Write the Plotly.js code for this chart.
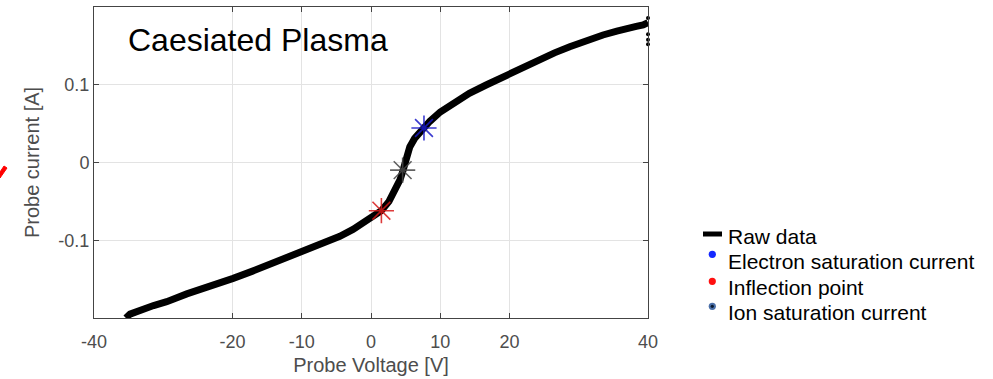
<!DOCTYPE html>
<html>
<head>
<meta charset="utf-8">
<script src="https://cdn.plot.ly/plotly-3.0.1.min.js"></script>
<style>html,body{margin:0;padding:0;background:#fff;}#chart{width:993px;height:379px;}</style>
</head>
<body>
<div id="chart"></div>
<script>
// Raw data (probe voltage [V], probe current [A])
const voltage = [-35.4, -34.8, -31.4, -29.5, -26.6, -22.5, -19.9, -17.2, -14.6, -12.3, -10.0, -8.2, -6.4, -4.5, -2.6, -1.2, 0.3, 1.5, 2.6, 3.5, 4.2, 4.6, 5.1, 5.6, 6.3, 7.0, 7.65, 8.5, 10.0, 11.9, 14.2, 16.7, 19.8, 22.0, 24.4, 26.5, 28.7, 31.0, 33.5, 35.5, 36.9, 38.3, 39.3, 40.0];
const current = [-0.2, -0.195, -0.184, -0.179, -0.169, -0.158, -0.149, -0.140, -0.131, -0.122, -0.114, -0.108, -0.103, -0.095, -0.086, -0.078, -0.069, -0.062, -0.050, -0.036, -0.022, -0.011, 0.004, 0.020, 0.031, 0.039, 0.045, 0.053, 0.065, 0.0765, 0.089, 0.100, 0.113, 0.124, 0.134, 0.141, 0.149, 0.157, 0.164, 0.169, 0.173, 0.175, 0.177, 0.180];
// scattered points at the right end
const endVoltage = [40, 40, 40, 40];
const endCurrent = [0.186, 0.165, 0.158, 0.152];

// marked points
const electronSat = {v: [7.65], i: [0.0444]};
const inflection = {v: [1.5], i: [-0.062]};
const ionSat = {v: [4.57], i: [-0.0098]};

const xTicks = [-40, -20, -10, 0, 10, 20, 40];
const yTicks = [-0.1, 0, 0.1];
const yTickText = ['-0.1', '0', '0.1'];

const legendLabels = ['Raw data', 'Electron saturation current', 'Inflection point', 'Ion saturation current'];
const titleText = 'Caesiated Plasma';
const xTitle = 'Probe Voltage [V]';
const yTitle = 'Probe current [A]';

const W = 993, H = 379, L = 94, R = 648, T = 7, B = 318;
const px = x => (x - L) / (R - L);
const py = y => (B - y) / (B - T);

const star = (c) => ({symbol: 'asterisk-open', size: 21, color: c, line: {color: c, width: 1.6}});
const traces = [
  {x: voltage, y: current, mode: 'lines', line: {color: '#000', width: 7}, showlegend: false, hoverinfo: 'skip'},
  {x: endVoltage, y: endCurrent, mode: 'markers', marker: {color: '#000', size: 4}, showlegend: false, cliponaxis: false},
  {x: inflection.v, y: inflection.i, mode: 'markers', marker: star('rgba(215,25,25,0.85)'), showlegend: false},
  {x: ionSat.v, y: ionSat.i, mode: 'markers', marker: star('rgba(70,70,70,0.85)'), showlegend: false},
  {x: electronSat.v, y: electronSat.i, mode: 'markers', marker: star('rgba(25,25,200,0.85)'), showlegend: false}
];

const legY = [236.5, 261.5, 287, 312.5];
const annotations = [
  {text: titleText, xref: 'paper', yref: 'paper', x: px(126), y: py(40), xanchor: 'left', yanchor: 'middle', showarrow: false, font: {family: 'Liberation Sans, Arial', size: 32, color: '#000'}}
];
legendLabels.forEach((t, k) => {
  annotations.push({text: t, xref: 'paper', yref: 'paper', x: px(726), y: py(legY[k]), xanchor: 'left', yanchor: 'middle', showarrow: false, font: {family: 'Liberation Sans, Arial', size: 21, color: '#000'}});
});

const dot = (cx, cy, r, color) => ({type: 'circle', xref: 'paper', yref: 'paper', x0: px(cx - r), x1: px(cx + r), y0: py(cy + r), y1: py(cy - r), fillcolor: color, line: {width: 0}});
const shapes = [
  {type: 'line', xref: 'paper', yref: 'paper', x0: px(703), x1: px(722), y0: py(234), y1: py(234), line: {color: '#000', width: 5}},
  dot(712.3, 254.3, 3.6, '#1428ff'),
  dot(712.3, 281.3, 3.6, '#ff1010'),
  dot(712.3, 306.3, 3.6, '#4a6fa8'),
  dot(712.3, 306.3, 1.6, '#0a1a30'),
  {type: 'path', xref: 'paper', yref: 'paper', path: `M ${px(0)} ${py(178)} L ${px(7)} ${py(168)} L ${px(4)} ${py(166)} L ${px(0)} ${py(172)} Z`, fillcolor: '#ff0000', line: {color: '#ff0000', width: 1}}
];

const layout = {
  width: W, height: H,
  margin: {l: L, r: W - R, t: T, b: H - B, pad: 0},
  paper_bgcolor: '#fff', plot_bgcolor: '#fff',
  showlegend: false,
  xaxis: {
    range: [-40, 40], tickvals: xTicks, ticktext: xTicks.map(String),
    ticks: 'inside', ticklen: 5, tickcolor: '#444', mirror: 'ticks', showline: true, linecolor: '#444', linewidth: 1,
    showgrid: true, gridcolor: '#e3e3e3', zeroline: false, ticklabelstandoff: 7,
    tickfont: {family: 'Liberation Sans, Arial', size: 18, color: '#4d4d4d'},
    title: {text: xTitle, font: {family: 'Liberation Sans, Arial', size: 20, color: '#4d4d4d'}, standoff: 7},
    automargin: false, fixedrange: true
  },
  yaxis: {
    range: [-0.2, 0.2], tickvals: yTicks, ticktext: yTickText,
    ticks: 'inside', ticklen: 5, tickcolor: '#444', mirror: 'ticks', showline: true, linecolor: '#444', linewidth: 1,
    showgrid: true, gridcolor: '#e3e3e3', zeroline: false,
    tickfont: {family: 'Liberation Sans, Arial', size: 18, color: '#4d4d4d'},
    title: {text: yTitle, font: {family: 'Liberation Sans, Arial', size: 20, color: '#4d4d4d'}, standoff: 13},
    automargin: false, fixedrange: true
  },
  annotations: annotations,
  shapes: shapes
};

Plotly.newPlot('chart', traces, layout, {displayModeBar: false, staticPlot: true});
</script>
</body>
</html>
